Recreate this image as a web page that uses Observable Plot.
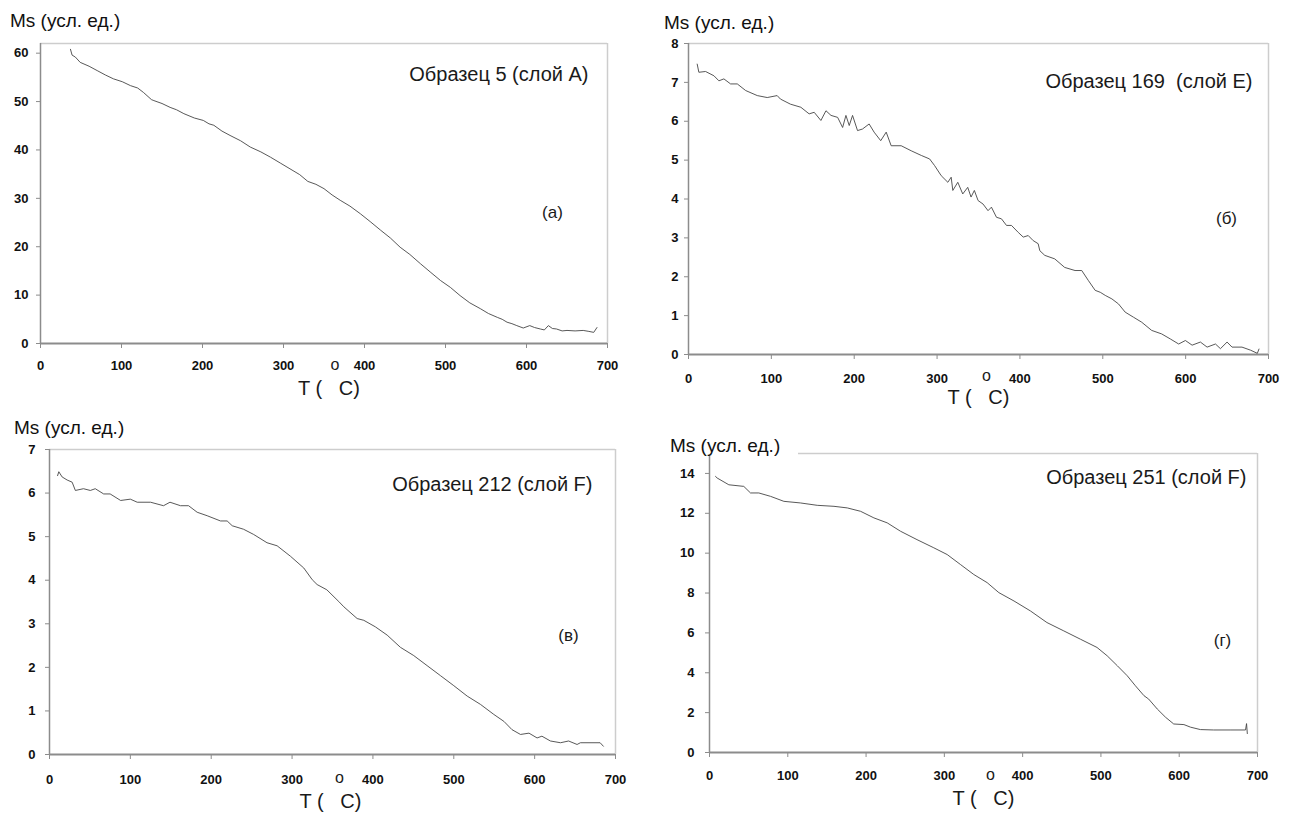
<!DOCTYPE html>
<html>
<head>
<meta charset="utf-8">
<script src="https://cdn.jsdelivr.net/npm/d3@7"></script>
<script src="https://cdn.jsdelivr.net/npm/@observablehq/plot@0.6"></script>
<style>
  html, body { margin: 0; padding: 0; background: #fff; }
  #wrap { position: relative; width: 1292px; height: 814px; overflow: hidden; background: #fff; }
  .panel { position: absolute; }
  .ytitle { position: absolute; font-family: "Liberation Sans", Arial, sans-serif; font-size: 19px; line-height: 1; color: #111; background: #fff; white-space: nowrap; }
</style>
</head>
<body>
<div id="wrap"></div>
<script>
// ---- tick labels ----
const ticksX = [0, 100, 200, 300, 400, 500, 600, 700];
const ticksA = [0, 10, 20, 30, 40, 50, 60];
const ticksB = [0, 1, 2, 3, 4, 5, 6, 7, 8];
const ticksC = [0, 1, 2, 3, 4, 5, 6, 7];
const ticksD = [0, 2, 4, 6, 8, 10, 12, 14];

// ---- texts ----
const yTitle = "Ms (усл. ед.)";
const xTitle = "T (\u00A0\u00A0 C)";
const degMark = "o";
const titles = ["Образец 5 (слой А)", "Образец 169  (слой Е)", "Образец 212 (слой F)", "Образец 251 (слой F)"];
const letters = ["(а)", "(б)", "(в)", "(г)"];

// ---- series (a) Образец 5 ----
const tempA = [37, 39, 43, 49, 60, 70, 80, 90, 101, 111, 120, 127, 137, 140, 150, 160, 168, 177, 190, 201, 208, 214, 224, 234, 247, 259, 272, 284, 296, 308, 320, 330, 340, 350, 360, 370, 382, 395, 407, 420, 432, 444, 456, 469, 481, 494, 506, 518, 530, 543, 553, 564, 570, 576, 582, 588, 596, 604, 610, 617, 622, 627, 632, 637, 644, 650, 660, 670, 677, 683, 687];
const msA   = [60.8, 59.6, 59.2, 58.1, 57.3, 56.4, 55.5, 54.7, 54.1, 53.3, 52.8, 51.9, 50.4, 50.2, 49.6, 48.8, 48.3, 47.5, 46.6, 46.1, 45.4, 45.1, 43.9, 43.0, 41.9, 40.6, 39.6, 38.5, 37.3, 36.1, 34.9, 33.5, 32.9, 32.0, 30.7, 29.6, 28.4, 26.8, 25.2, 23.4, 21.8, 19.9, 18.4, 16.5, 14.8, 13.0, 11.6, 9.9, 8.4, 7.2, 6.2, 5.4, 5.0, 4.4, 4.1, 3.7, 3.2, 3.7, 3.3, 3.0, 2.8, 3.7, 3.1, 3.0, 2.6, 2.7, 2.6, 2.7, 2.5, 2.3, 3.3];

// ---- series (б) Образец 169 ----
const tempB = [10.5, 12.5, 20.6, 30.7, 36.7, 42.7, 50.8, 58.9, 69, 83, 95, 107, 111, 123, 135.6, 145.6, 151.7, 159.8, 165.9, 172, 180, 186, 190, 194, 198, 204, 210, 218, 224, 232, 238.6, 244.6, 256.7, 268.8, 281, 291, 297, 305, 313, 317, 319, 325, 331, 337, 341, 345, 349.5, 355.5, 361.5, 365.6, 371.7, 377.7, 383.8, 389.8, 398, 404, 410, 416, 422, 424, 430, 442, 454, 466.5, 474.6, 482.7, 490.8, 497, 503, 511, 519, 527, 537, 547, 559, 571, 581.5, 591.6, 599.7, 607.8, 617.8, 625.9, 636, 642, 650, 656, 668, 678.5, 686.5, 688.5];
const msB   = [7.47, 7.26, 7.28, 7.17, 7.04, 7.09, 6.96, 6.96, 6.79, 6.66, 6.61, 6.66, 6.57, 6.44, 6.36, 6.19, 6.23, 6.02, 6.27, 6.15, 6.10, 5.84, 6.15, 5.89, 6.15, 5.76, 5.80, 5.93, 5.72, 5.50, 5.72, 5.37, 5.37, 5.24, 5.12, 5.03, 4.86, 4.60, 4.43, 4.56, 4.22, 4.43, 4.13, 4.30, 4.05, 4.22, 3.96, 3.87, 3.70, 3.79, 3.53, 3.49, 3.32, 3.32, 3.14, 3.02, 3.06, 2.93, 2.85, 2.67, 2.55, 2.46, 2.24, 2.16, 2.16, 1.90, 1.65, 1.60, 1.52, 1.43, 1.30, 1.09, 0.96, 0.83, 0.62, 0.53, 0.40, 0.27, 0.36, 0.24, 0.32, 0.19, 0.27, 0.15, 0.32, 0.19, 0.19, 0.11, 0.03, 0.14];

// ---- series (в) Образец 212 ----
const tempC = [10, 11.5, 15.6, 21.8, 28, 32, 42, 50.5, 56.6, 67, 75, 88, 100, 108.5, 125, 141, 149, 162, 172, 182.6, 195, 211.5, 219.7, 226, 240, 252.5, 269, 281.5, 298, 314.5, 325, 331, 343, 357.8, 364, 380.5, 388.7, 403, 417.6, 434, 450.5, 467, 483.5, 500, 516.6, 533, 549.5, 562, 572, 582.5, 593, 603, 609, 619.5, 632, 642, 652.5, 656.6, 681, 685];
const msC   = [6.40, 6.49, 6.37, 6.30, 6.25, 6.06, 6.10, 6.06, 6.10, 5.98, 5.98, 5.83, 5.86, 5.79, 5.79, 5.71, 5.79, 5.71, 5.71, 5.56, 5.48, 5.36, 5.36, 5.25, 5.17, 5.05, 4.86, 4.79, 4.55, 4.28, 4.01, 3.90, 3.78, 3.51, 3.39, 3.12, 3.08, 2.93, 2.74, 2.46, 2.27, 2.04, 1.81, 1.58, 1.34, 1.15, 0.92, 0.76, 0.57, 0.46, 0.49, 0.38, 0.42, 0.31, 0.27, 0.31, 0.23, 0.27, 0.27, 0.19];

// ---- series (г) Образец 251 ----
const tempD = [7.7, 9.8, 24.7, 43.8, 52.4, 63, 78, 95, 116, 137.6, 159, 176, 193, 210, 227, 244, 265, 286.5, 303.6, 320.6, 337.6, 354.7, 369.6, 389, 410, 431, 452.6, 474, 495, 508, 521, 533.6, 544, 555, 561, 572, 582.5, 593, 606, 614.5, 627, 644, 665, 684.7, 686, 687];
const msD   = [13.85, 13.77, 13.43, 13.35, 13.02, 13.02, 12.85, 12.60, 12.52, 12.40, 12.35, 12.27, 12.10, 11.77, 11.52, 11.10, 10.68, 10.27, 9.93, 9.43, 8.93, 8.52, 8.02, 7.60, 7.10, 6.52, 6.10, 5.68, 5.27, 4.85, 4.35, 3.85, 3.35, 2.85, 2.68, 2.18, 1.77, 1.43, 1.40, 1.27, 1.15, 1.13, 1.13, 1.13, 1.45, 0.95];

const rows = (ts, ms) => ts.map((t, i) => ({t, m: ms[i]}));

const FONT = "'Liberation Sans', Arial, Helvetica, sans-serif";

const panels = [
  {left: 0, top: 0, ml: 40, mr: 39, mt: 43, mb: 64, ymax: 62, yticks: ticksA, data: rows(tempA, msA),
   xPad: 12, yPad: 8, title: titles[0], tdx: -19, tdy: 37, letter: letters[0], ldx: -55, ldy: 169,
   xdx: 5, xdy: 45, odx: 11, ody: 21, yt: {x: 10, y: 11}},
  {left: 646, top: 0, ml: 42, mr: 24, mt: 43, mb: 53, ymax: 8, yticks: ticksB, data: rows(tempB, msB),
   xPad: 14, yPad: 6, title: titles[1], tdx: -16, tdy: 44, letter: letters[1], ldx: -42, ldy: 175,
   xdx: 0, xdy: 43, odx: 8, ody: 21, yt: {x: 664, y: 13}},
  {left: 0, top: 407, ml: 49, mr: 31, mt: 42, mb: 60, ymax: 7, yticks: ticksC, data: rows(tempC, msC),
   xPad: 15, yPad: 10, title: titles[2], tdx: -23, tdy: 41, letter: letters[2], ldx: -47, ldy: 186,
   xdx: -2, xdy: 47, odx: 7, ody: 23, yt: {x: 14, y: 418}},
  {left: 646, top: 407, ml: 63, mr: 35, mt: 46, mb: 62, ymax: 15, yticks: ticksD, data: rows(tempD, msD),
   xPad: 13, yPad: 11, title: titles[3], tdx: -11, tdy: 30, letter: letters[3], ldx: -35, ldy: 187,
   xdx: 0, xdy: 46, odx: 7, ody: 22, yt: {x: 670, y: 436, w: 128}}
];

const wrap = document.getElementById("wrap");

for (const p of panels) {
  const chart = Plot.plot({
    width: 646,
    height: 407,
    marginLeft: p.ml,
    marginRight: p.mr,
    marginTop: p.mt,
    marginBottom: p.mb,
    x: {domain: [0, 700]},
    y: {domain: [0, p.ymax]},
    style: {fontFamily: FONT, background: "transparent", color: "#111", overflow: "visible"},
    marks: [
      Plot.ruleY([p.ymax], {stroke: "#cdcdcd", strokeWidth: 1.5}),
      Plot.ruleX([700], {stroke: "#cdcdcd", strokeWidth: 1.5}),
      Plot.ruleX([0], {stroke: "#8c8c8c", strokeWidth: 1.5}),
      Plot.ruleY([0], {stroke: "#8c8c8c", strokeWidth: 1.8}),
      Plot.line(p.data, {x: "t", y: "m", stroke: "#454545", strokeWidth: 0.9}),
      Plot.axisY({ticks: p.yticks, tickFormat: d => String(d), tickSize: 4, tickPadding: p.yPad,
                  stroke: "#8c8c8c", fill: "#111", fontSize: 13, fontWeight: "bold", label: null}),
      Plot.axisX({ticks: ticksX, tickFormat: d => String(d), tickSize: 5, tickPadding: p.xPad,
                  stroke: "#8c8c8c", fill: "#111", fontSize: 13, fontWeight: "bold", label: null}),
      Plot.text([p.title], {frameAnchor: "top-right", dx: p.tdx, dy: p.tdy, textAnchor: "end",
                            lineAnchor: "bottom", fontSize: 20, fill: "#1a1a1a"}),
      Plot.text([p.letter], {frameAnchor: "top-right", dx: p.ldx, dy: p.ldy, textAnchor: "middle",
                             lineAnchor: "middle", fontSize: 17, fill: "#1a1a1a"}),
      Plot.text([xTitle], {frameAnchor: "bottom", dx: p.xdx, dy: p.xdy, textAnchor: "middle",
                           lineAnchor: "middle", fontSize: 20, fill: "#1a1a1a"}),
      Plot.text([degMark], {frameAnchor: "bottom", dx: p.odx, dy: p.ody, textAnchor: "middle",
                            lineAnchor: "middle", fontSize: 16, fill: "#1a1a1a"})
    ]
  });
  const holder = document.createElement("div");
  holder.className = "panel";
  holder.style.left = p.left + "px";
  holder.style.top = p.top + "px";
  holder.appendChild(chart);
  wrap.appendChild(holder);

  const yt = document.createElement("div");
  yt.className = "ytitle";
  yt.textContent = yTitle;
  yt.style.left = p.yt.x + "px";
  yt.style.top = p.yt.y + "px";
  if (p.yt.w) yt.style.width = p.yt.w + "px";
  wrap.appendChild(yt);
}
</script>
</body>
</html>
